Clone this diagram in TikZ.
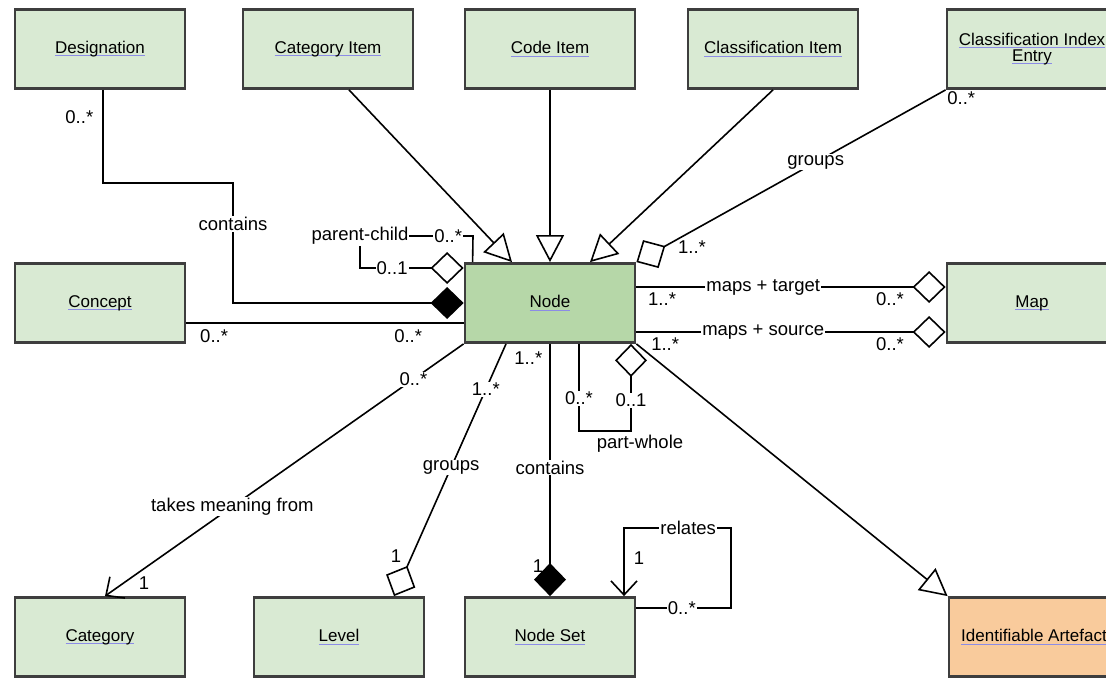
\documentclass[tikz,border=0pt]{standalone}
\usepackage{fontspec}
\setmainfont{Liberation Sans}
\usetikzlibrary{arrows.meta}
\definecolor{boxgreen}{HTML}{D9EAD3}
\definecolor{nodegreen}{HTML}{B6D7A8}
\definecolor{artorange}{HTML}{F9CB9C}
\definecolor{boxline}{HTML}{3E3E3E}
\definecolor{linkblue}{HTML}{8C8CE6}
\newcommand{\lnk}[1]{\setbox0\hbox{#1}\rlap{\color{linkblue}\rule[-2.5pt]{\wd0}{0.9pt}}\box0}
\begin{document}
\begin{tikzpicture}[x=1pt,y=-1pt,
  every node/.style={font=\fontsize{17}{17}\selectfont},
  cls/.style={draw=boxline,line width=2.8pt,fill=boxgreen,minimum width=170pt,minimum height=79pt,inner sep=0pt,align=center},
  assoc/.style={draw,line width=1.6pt},
  lbl/.style={fill=white,inner sep=1pt,font=\fontsize{18.5}{18.5}\selectfont},
  gen/.style={-{Triangle[open,length=27pt,width=28pt]}},
  agg/.style={-{Diamond[open,length=33pt,width=32pt]}},
  comp/.style={-{Diamond[length=33pt,width=32pt]}},
  nav/.style={-{Straight Barb[length=14pt,width=26pt]}}]
  \useasboundingbox (0,0) rectangle (1106,681);
  \fill[white] (0,0) rectangle (1106,681);

  \node[cls] (desig) at (100,49) {\lnk{Designation}};
  \node[cls] (catitem) at (328,49) {\lnk{Category Item}};
  \node[cls] (codeitem) at (550,49) {\lnk{Code Item}};
  \node[cls] (classitem) at (773,49) {\lnk{Classification Item}};
  \node[cls] (indexentry) at (1032,49) {\lnk{Classification Index}\\[-1pt]\lnk{Entry}};
  \node[cls] (concept) at (100,303) {\lnk{Concept}};
  \node[cls,fill=nodegreen] (nd) at (550,303) {\lnk{Node}};
  \node[cls] (map) at (1032,303) {\lnk{Map}};
  \node[cls] (category) at (100,637) {\lnk{Category}};
  \node[cls] (level) at (339,637) {\lnk{Level}};
  \node[cls] (nodeset) at (550,637) {\lnk{Node Set}};
  \node[cls,fill=artorange] (artefact) at (1034,637) {\lnk{Identifiable Artefact}};

  \draw[assoc,comp] ([xshift=3pt]desig.south) -- node[lbl,pos=0.29,left=8pt,fill=none]{0..*} (103,183) -- (233,183)
    -- node[lbl,pos=0.34]{contains} (233,303) -- (nd.west);
  \draw[assoc] ([yshift=-20pt]concept.east) -- node[lbl,pos=0.1,below=5pt,fill=none]{0..*}
    node[lbl,pos=0.8,below=5pt,fill=none]{0..*} ([yshift=-20pt]nd.west);
  \draw[assoc,agg] ([xshift=9pt]nd.north west) -- (473,236) -- node[lbl,pos=0.22]{0..*} (360,236) node[lbl]{parent-child}
    -- (360,268) -- node[lbl,pos=0.31]{0..1} ([yshift=35pt]nd.west);

  \draw[assoc,gen] ([xshift=21pt]catitem.south) -- ([xshift=-38pt]nd.north);
  \draw[assoc,gen] (codeitem.south) -- (nd.north);
  \draw[assoc,gen] (classitem.south) -- ([xshift=40pt]nd.north);
  \draw[assoc,agg] (indexentry.south west) -- node[lbl,pos=0,anchor=north west,fill=none]{0..*}
    node[lbl,pos=0.42]{groups} node[lbl,pos=0.82,yshift=-16pt,fill=none]{1..*} (nd.north east);

  \draw[assoc,agg] ([yshift=16pt]nd.east) -- node[lbl,pos=0.41]{maps + target}
    node[lbl,pos=0.083,below=4pt,fill=none]{1..*} node[lbl,pos=0.82,below=4pt,fill=none]{0..*} ([yshift=16pt]map.west);
  \draw[assoc,agg] ([yshift=-29pt]nd.east) -- node[lbl,pos=0.41]{maps + source}
    node[lbl,pos=0.093,below=4pt,fill=none]{1..*} node[lbl,pos=0.82,below=4pt,fill=none]{0..*} ([yshift=-29pt]map.west);

  \draw[assoc,nav] (nd.south west) -- node[lbl,pos=0.14]{0..*} node[lbl,pos=0.645]{takes meaning from}
    node[lbl,pos=1,xshift=39pt,yshift=13pt,fill=none]{1} ([xshift=5pt]category.north);
  \draw[assoc,agg] ([xshift=-44pt]nd.south) -- node[lbl,pos=0.18]{1..*} node[lbl,pos=0.49]{groups}
    node[lbl,pos=0.84,xshift=-16pt,fill=none]{1} ([xshift=55pt]level.north);
  \draw[assoc,comp] (nd.south) -- node[lbl,pos=0.055,left=6pt,fill=none]{1..*} node[lbl,pos=0.49]{contains}
    node[lbl,pos=0.88,left=5pt,fill=none]{1} (nodeset.north);
  \draw[assoc,agg] ([xshift=29pt]nd.south) -- node[lbl,pos=0.625]{0..*} (579,431) -- (631,431)
    node[lbl,below=2pt,xshift=9pt]{part-whole} -- node[lbl,pos=0.35]{0..1} ([xshift=81pt]nd.south);
  \draw[assoc,gen] (nd.south east) -- (artefact.north west);
  \draw[assoc,nav] ([yshift=29pt]nodeset.east) -- node[lbl,pos=0.48]{0..*} (731,608) -- (731,528)
    -- node[lbl,pos=0.4]{relates} (624,528) -- node[lbl,pos=0.44,right=8pt,fill=none]{1} ([xshift=74pt]nodeset.north);
\end{tikzpicture}
\end{document}
